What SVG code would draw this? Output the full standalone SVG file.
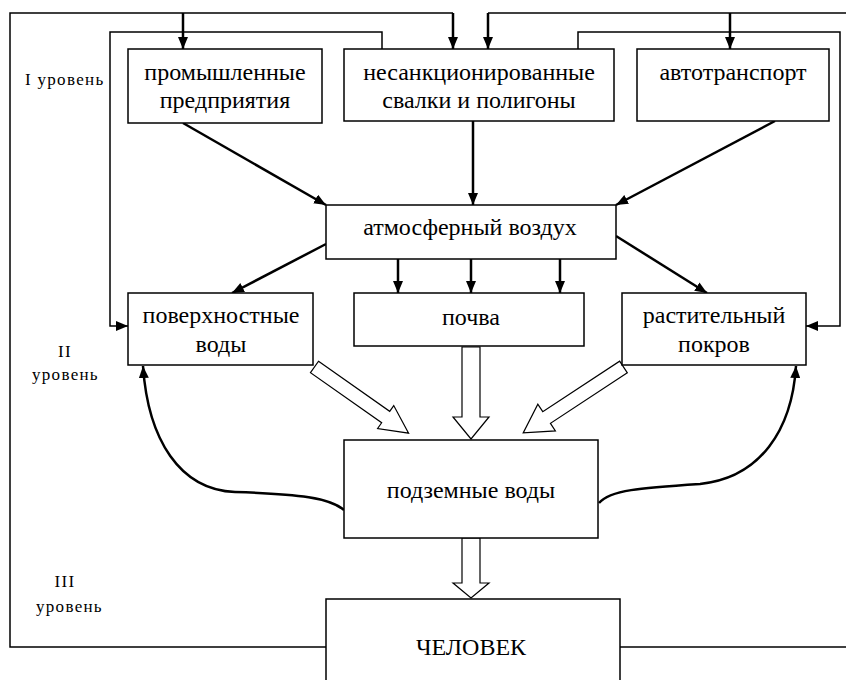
<svg xmlns="http://www.w3.org/2000/svg" width="846" height="680" viewBox="0 0 846 680">
<defs>
<marker id="ah" viewBox="0 0 12 10" refX="12" refY="5" markerWidth="12" markerHeight="10" markerUnits="userSpaceOnUse" orient="auto">
<path d="M0,0 L12,5 L0,10 Z" fill="#000"/>
</marker>
<style>
.box{fill:#fff;stroke:#000;stroke-width:1.5}
.t{font-family:"Liberation Serif","Times New Roman",serif;font-size:24px;fill:#000;text-anchor:middle}
.lv{font-family:"Liberation Serif","Times New Roman",serif;font-size:17px;letter-spacing:1.3px;fill:#000}
.ln{fill:none;stroke:#000;stroke-width:1.5}
.ar{fill:none;stroke:#000;stroke-width:2.5;marker-end:url(#ah)}
.arf{fill:none;stroke:#000;stroke-width:1.5;marker-end:url(#ah)}
.cv{fill:none;stroke:#000;stroke-width:2.5;marker-end:url(#ah)}
.ho{fill:#fff;stroke:#000;stroke-width:1.2}
</style>
</defs>
<rect width="846" height="680" fill="#fff"/>
<g id="connectors">
<polyline class="ln" points="846,13 488,13"/>
<polyline class="ln" points="453,13 10,13 10,647 326,647"/>
<line class="ln" x1="620" y1="647" x2="846" y2="647"/>
<line class="ar" x1="183" y1="13" x2="183" y2="49"/>
<line class="ar" x1="453" y1="13" x2="453" y2="49"/>
<line class="ar" x1="488" y1="13" x2="488" y2="49"/>
<line class="ar" x1="730" y1="13" x2="730" y2="49"/>
<polyline class="arf" points="382,49 382,32 110,32 110,326 128,326"/>
<polyline class="arf" points="578,49 578,32 840,32 840,326 806,326"/>
<line class="ar" x1="183" y1="123" x2="326" y2="205"/>
<line class="ar" x1="473" y1="121" x2="473" y2="205"/>
<line class="ar" x1="775" y1="121" x2="616" y2="205"/>
<line class="ar" x1="326" y1="244" x2="232" y2="293"/>
<line class="ar" x1="616" y1="236" x2="707" y2="293"/>
<line class="ar" x1="398" y1="259" x2="398" y2="293"/>
<line class="ar" x1="471" y1="259" x2="471" y2="293"/>
<line class="ar" x1="560" y1="259" x2="560" y2="293"/>
<path class="ho" d="M462,347 L480,347 L480,417 L489,417 L471,439 L453,417 L462,417 Z"/>
<path class="ho" d="M462,538 L480,538 L480,583 L489,583 L471,598 L453,583 L462,583 Z"/>
<path class="ho" transform="translate(314.5,367) rotate(35.1)" d="M0,-7 L87,-7 L87,-14 L115,0 L87,14 L87,7 L0,7 Z"/>
<path class="ho" transform="translate(623.5,367) rotate(146.7)" d="M0,-7 L92,-7 L92,-16 L120,0 L92,16 L92,7 L0,7 Z"/>
<path class="cv" d="M344,510 C330,498 300,494 235,492 C180,490 148,440 143,366"/>
<path class="cv" d="M599,503 C610,490 640,488 700,484 C760,478 792,430 796,366"/>
</g>
<g id="labels">
<text class="lv" x="25" y="85">I уровень</text>
<text class="lv" x="65" y="357" text-anchor="middle">II</text>
<text class="lv" x="32" y="380">уровень</text>
<text class="lv" x="65" y="587" text-anchor="middle">III</text>
<text class="lv" x="36" y="612">уровень</text>
</g>
<g id="prom">
<rect class="box" x="128" y="49" width="194" height="74"/>
<text class="t" x="225" y="80">промышленные</text>
<text class="t" x="225" y="108">предприятия</text>
</g>
<g id="svalki">
<rect class="box" x="344" y="49" width="270" height="72"/>
<text class="t" x="479" y="80">несанкционированные</text>
<text class="t" x="479" y="108">свалки и полигоны</text>
</g>
<g id="avto">
<rect class="box" x="637" y="49" width="192" height="72"/>
<text class="t" x="733" y="80">автотранспорт</text>
</g>
<g id="atmo">
<rect class="box" x="326" y="205" width="290" height="54"/>
<text class="t" x="470" y="235">атмосферный воздух</text>
</g>
<g id="pov">
<rect class="box" x="128" y="293" width="185" height="72"/>
<text class="t" x="221" y="323">поверхностные</text>
<text class="t" x="221" y="352">воды</text>
</g>
<g id="pochva">
<rect class="box" x="354" y="293" width="230" height="53"/>
<text class="t" x="471" y="325">почва</text>
</g>
<g id="rast">
<rect class="box" x="622" y="293" width="184" height="72"/>
<text class="t" x="714" y="323">растительный</text>
<text class="t" x="714" y="352">покров</text>
</g>
<g id="podz">
<rect class="box" x="344" y="440" width="254" height="98"/>
<text class="t" x="471" y="498">подземные воды</text>
</g>
<g id="chel">
<rect class="box" x="326" y="599" width="294" height="100"/>
<text class="t" x="471" y="655">ЧЕЛОВЕК</text>
</g>
</svg>
